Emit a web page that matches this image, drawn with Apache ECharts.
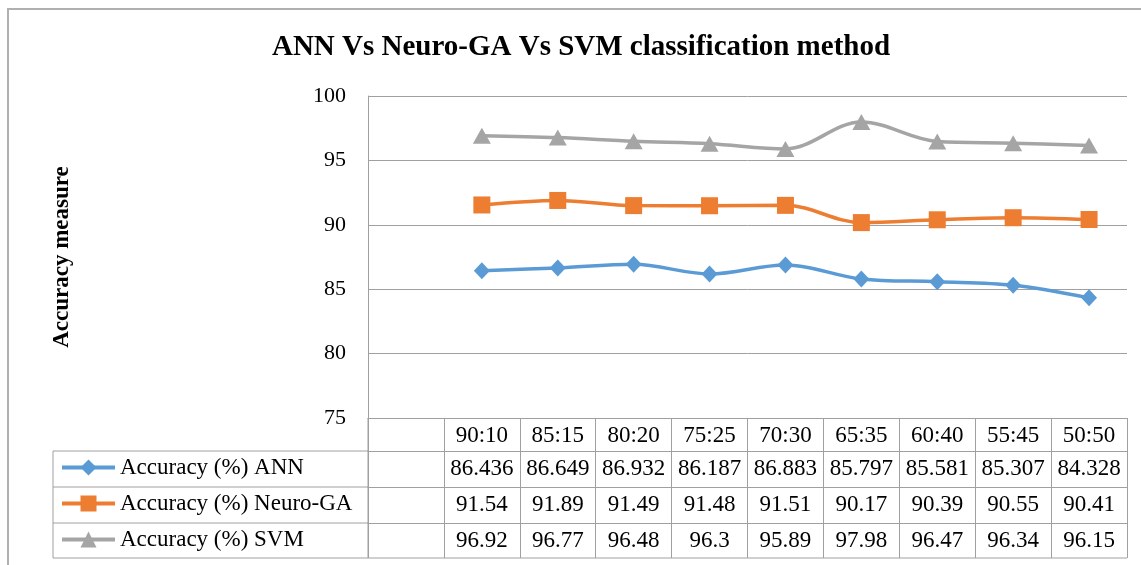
<!DOCTYPE html>
<html>
<head>
<meta charset="utf-8">
<script src="https://cdn.jsdelivr.net/npm/echarts@6/dist/echarts.min.js"></script>
<style>html,body{margin:0;padding:0;background:#fff;}#c{width:1141px;height:565px;}</style>
</head>
<body>
<div id="c"></div>
<script>
const titleText = 'ANN Vs Neuro-GA Vs SVM classification method';
const yAxisName = 'Accuracy measure';
const categories = ['', '90:10', '85:15', '80:20', '75:25', '70:30', '65:35', '60:40', '55:45', '50:50'];
const seriesNames = ['Accuracy (%) ANN', 'Accuracy (%) Neuro-GA', 'Accuracy (%) SVM'];
const annValues = [null, 86.436, 86.649, 86.932, 86.187, 86.883, 85.797, 85.581, 85.307, 84.328];
const neuroGaValues = [null, 91.54, 91.89, 91.49, 91.48, 91.51, 90.17, 90.39, 90.55, 90.41];
const svmValues = [null, 96.92, 96.77, 96.48, 96.3, 95.89, 97.98, 96.47, 96.34, 96.15];
const yTicks = { min: 75, max: 100, interval: 5 };

const FONT = 'Liberation Serif';
const GRID_COLOR = '#a0a0a0';
const colors = ['#5B9BD5', '#ED7D31', '#A5A5A5'];
const symbols = ['diamond', 'rect', 'triangle'];
const symbolSizes = [[16, 17], 17, [18, 16]];
const allValues = [annValues, neuroGaValues, svmValues];
const TABLE_FS = 23;

const chart = echarts.init(document.getElementById('c'));

const G = { left: 368, right: 14, top: 96, bottom: 147 }; // plot bottom at y=418
const tableLeft = 53;
const rowLines = [418, 451, 487, 523, 558];

function tableAxis(idx, data, offset, tickLen) {
  return {
    type: 'category', gridIndex: 0, position: 'bottom', offset: offset,
    data: data, boundaryGap: true,
    axisLine: { show: true, lineStyle: { color: GRID_COLOR, width: 1 } },
    axisTick: { show: true, interval: 0, length: tickLen, lineStyle: { color: GRID_COLOR, width: 1 } },
    axisLabel: { show: true, interval: 0, margin: 6, fontSize: TABLE_FS, color: '#000', fontFamily: FONT },
    splitLine: { show: false }
  };
}

const xAxes = [
  tableAxis(0, categories, 0, rowLines[1] - rowLines[0]),
  tableAxis(1, annValues.map(v => v == null ? '' : String(v)), rowLines[1] - rowLines[0], rowLines[2] - rowLines[1]),
  tableAxis(2, neuroGaValues.map(v => v == null ? '' : String(v)), rowLines[2] - rowLines[0], rowLines[3] - rowLines[2]),
  tableAxis(3, svmValues.map(v => v == null ? '' : String(v)), rowLines[3] - rowLines[0], rowLines[4] - rowLines[3])
];

const graphics = [
  { type: 'rect', silent: true, shape: { x: 8, y: 9, width: 1200, height: 700 }, style: { fill: 'none', stroke: '#b0b0b0', lineWidth: 2 } },
  { type: 'text', silent: true, style: { text: titleText, x: 581, y: 48, align: 'center', verticalAlign: 'middle', fontFamily: FONT, fontWeight: 'bold', fontSize: 29, fill: '#000' } },
  { type: 'line', silent: true, shape: { x1: tableLeft, y1: rowLines[1], x2: tableLeft, y2: rowLines[4] }, style: { stroke: GRID_COLOR, lineWidth: 1 } }
];
for (let i = 1; i < rowLines.length; i++) {
  graphics.push({ type: 'line', silent: true, shape: { x1: tableLeft, y1: rowLines[i], x2: G.left, y2: rowLines[i] }, style: { stroke: GRID_COLOR, lineWidth: 1 } });
}
graphics.push({ type: 'line', silent: true, shape: { x1: G.left, y1: rowLines[4], x2: 1141 - G.right, y2: rowLines[4] }, style: { stroke: GRID_COLOR, lineWidth: 1 } });
graphics.push({ type: 'line', silent: true, shape: { x1: G.left, y1: rowLines[0], x2: G.left, y2: rowLines[4] }, style: { stroke: GRID_COLOR, lineWidth: 1 } });

chart.setOption({
  animation: false,
  backgroundColor: '#fff',
  grid: { left: G.left, right: G.right, top: G.top, bottom: G.bottom, containLabel: false },
  legend: {
    orient: 'vertical', left: 60, top: 456, itemGap: 13, padding: 0,
    itemWidth: 53, itemHeight: 20,
    lineStyle: { width: 4 },
    textStyle: { fontFamily: FONT, fontSize: TABLE_FS, color: '#000' },
    data: seriesNames
  },
  xAxis: xAxes,
  yAxis: {
    type: 'value', min: yTicks.min, max: yTicks.max, interval: yTicks.interval,
    name: yAxisName, nameLocation: 'middle', nameRotate: 90, nameGap: 294,
    nameTextStyle: { fontFamily: FONT, fontWeight: 'bold', fontSize: 23, color: '#000' },
    axisLine: { show: true, lineStyle: { color: GRID_COLOR, width: 1 } },
    axisTick: { show: false },
    axisLabel: { fontFamily: FONT, fontSize: 22, color: '#000', margin: 22 },
    splitLine: { show: true, lineStyle: { color: GRID_COLOR, width: 1 } }
  },
  series: seriesNames.map((name, i) => ({
    name: name, type: 'line', xAxisIndex: 0, data: allValues[i],
    smooth: 0.35, symbol: symbols[i], symbolSize: symbolSizes[i],
    itemStyle: { color: colors[i] },
    lineStyle: { color: colors[i], width: 3.5 },
    z: 3 + i
  })),
  graphic: graphics
});
</script>
</body>
</html>
